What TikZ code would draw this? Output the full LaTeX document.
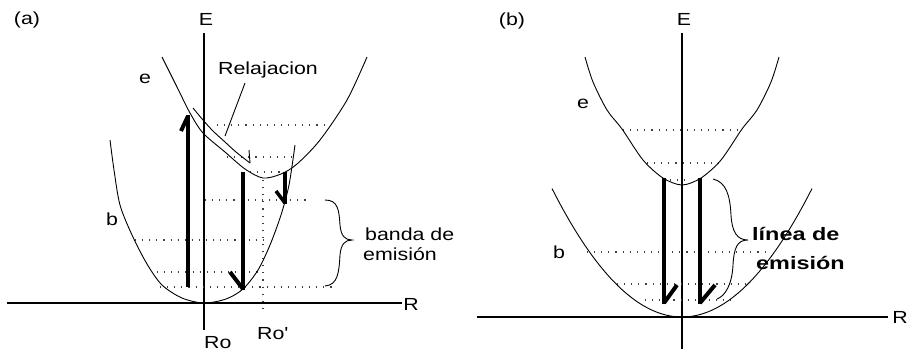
\documentclass[tikz,border=0pt]{standalone}
\usepackage{fontspec}
\setmainfont{Liberation Sans}[FakeStretch=1.22]
\newfontfamily\boldlab{Liberation Sans Bold}[FakeStretch=1.3]
\begin{document}
\begin{tikzpicture}[x=1pt,y=-1pt,
  curve/.style={line width=0.9pt},
  axis/.style={line width=1.1pt},
  dots/.style={line width=1.1pt, dash pattern=on 1.1pt off 6pt, black!75},
  shaft/.style={line width=4.5pt, line cap=butt},
  barb/.style={line width=4pt, line cap=butt},
  lab/.style={inner sep=0pt, font=\fontsize{17.5}{20}\selectfont},
  blab/.style={inner sep=0pt, font=\fontsize{18}{21}\boldlab}]
\useasboundingbox (0,0) rectangle (910,354);

% ---------------- panel (a) ----------------
\node[lab] (pa) at (27,20) {(a)};
\node[lab] (Ea) at (206,19) {E};
\node[lab] (Ra) at (411,304) {R};
\node[lab, anchor=base west] (Ro) at (204,348) {Ro};
\node[lab, anchor=base west] (Ro2) at (257,339) {Ro\textquotesingle};
\node[lab] (ea) at (145,79) {e};
\node[lab] (ba) at (112,219) {b};
\node[lab, anchor=base west] (rel) at (218,74) {Relajacion};
\node[lab, anchor=base west] (banda1) at (365,240) {banda de};
\node[lab, anchor=base west] (banda2) at (363,260) {emisión};

\coordinate (aEtop) at (204,33);
\coordinate (aEbot) at (204,330);
\coordinate (aRl) at (7,303);
\coordinate (aRr) at (402,303);
\draw[axis] (aEtop) -- (aEbot);
\draw[axis] (aRl) -- (aRr);

% dotted levels
\draw[dots] (217,125) -- (330,125);
\draw[dots] (227,157) -- (293,157);
\draw[dots] (250,172) -- (286,172);
\draw[dots] (205,200) -- (310,200);
\draw[dots] (135,240) -- (263,240);
\draw[dots] (157,272) -- (258,272);
\draw[dots] (160,287) -- (333,287);
\draw[dots] (263,180) -- (263,314);

% ground curve b
\draw[curve] plot[smooth] coordinates {(110,140) (114,170) (120,205) (132,235) (147,264) (162,285) (182,298) (204,303) (226,299) (243,289) (258,270) (270,245) (281,215) (289,185) (295,145)};
% excited curve e
\draw[curve] plot[smooth] coordinates {(162,57) (177,87) (190,113) (203,133) (225,152) (245,169) (263,178) (281,174) (297,164) (320,140) (347,100) (367,57)};
% relaxation path
\draw[curve] plot[smooth] coordinates {(193,108) (203,120) (213,131) (225,142) (236,152) (250,163)};
\draw[curve] (250,163) -- (249,150);
% leader
\coordinate (lead) at (225,136);
\draw[curve] (245,83) -- (lead);

% arrows
\coordinate (u1b) at (188,287); \coordinate (u1t) at (188,115);
\draw[shaft] (u1b) -- (u1t);
\draw[barb] (188,116) -- (181,131);
\coordinate (d1t) at (243,172); \coordinate (d1b) at (243,290);
\draw[shaft] (d1t) -- (d1b);
\draw[barb] (243,289) -- (230,272);
\coordinate (d2t) at (285,172); \coordinate (d2b) at (285,204);
\draw[line width=3.5pt] (d2t) -- (d2b);
\draw[line width=3.5pt] (285,203) -- (276,191);

% brace (a)
\draw[curve] (325,200) .. controls (338,200) and (339,210) .. (340,225) .. controls (341,236) and (345,240) .. (352,240) .. controls (345,240) and (341,244) .. (340,255) .. controls (339,272) and (338,285) .. (325,286);

% ---------------- panel (b) ----------------
\node[lab] (pb) at (512,21) {(b)};
\node[lab] (Eb) at (684,19) {E};
\node[lab] (Rb) at (900,317) {R};
\node[lab] (eb) at (583,104) {e};
\node[lab] (bb) at (559,252) {b};
\node[blab, anchor=base west] (lin1) at (752,240) {línea de};
\node[blab, anchor=base west] (lin2) at (756,269) {emisión};

\coordinate (bEtop) at (682,33);
\coordinate (bEbot) at (682,349);
\coordinate (bRl) at (477,317);
\coordinate (bRr) at (888,317);
\draw[axis] (bEtop) -- (bEbot);
\draw[axis] (bRl) -- (bRr);

\draw[dots] (623,130) -- (742,130);
\draw[dots] (647,163) -- (720,163);
\draw[dots] (663,180) -- (690,180);
\draw[dots] (587,252) -- (770,252);
\draw[dots] (617,284) -- (747,284);
\draw[dots] (645,300) -- (735,300);

% ground curve b (parabola)
\draw[curve] plot[domain=-13:13, samples=60] ({682+10*\x},{317-0.76*\x*\x});
% excited curve e
\draw[curve] plot[smooth] coordinates {(585,57) (593,82) (607,110) (622,129) (643,160) (663,178) (682,185) (701,178) (721,160) (742,129) (757,110) (771,82) (779,57)};

% arrows
\coordinate (l1t) at (664,178); \coordinate (l1b) at (664,304);
\draw[shaft] (l1t) -- (l1b);
\draw[barb] (664,303) -- (677,285);
\coordinate (l2t) at (700,178); \coordinate (l2b) at (700,304);
\draw[shaft] (l2t) -- (l2b);
\draw[barb] (700,303) -- (715,285);

% brace (b)
\draw[curve] (713,179) .. controls (726,182) and (730,195) .. (731,215) .. controls (732,232) and (737,240) .. (748,240) .. controls (737,240) and (734,248) .. (733,265) .. controls (732,285) and (725,296) .. (717,299);
\end{tikzpicture}
\end{document}
